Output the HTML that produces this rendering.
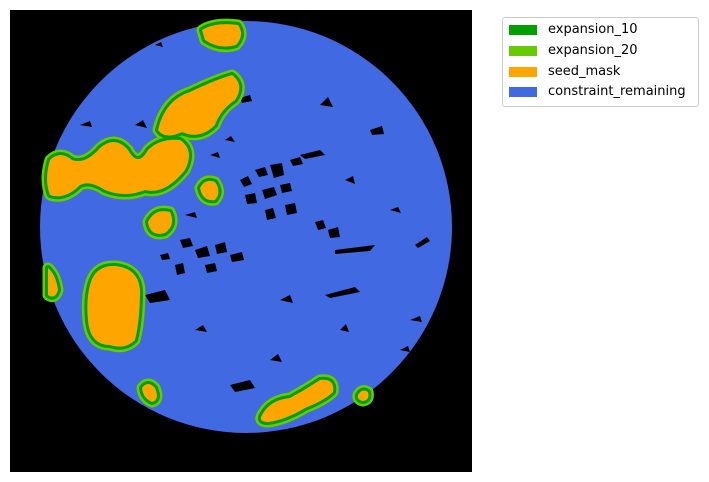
<!DOCTYPE html>
<html><head><meta charset="utf-8"><style>
body{margin:0;background:#fff;width:709px;height:482px;overflow:hidden;font-family:"DejaVu Sans","Liberation Sans",sans-serif;}
#leg{position:absolute;left:502px;top:17px;width:195px;height:88px;border:1px solid #ccc;border-radius:3px;background:#fff;}
.row{position:absolute;left:6px;height:14px;font-size:13px;color:#000;line-height:14px;}
.sw{position:absolute;left:0;top:2px;width:28px;height:10px;}
.lb{position:absolute;left:39px;top:0;white-space:nowrap;}
</style></head><body>
<svg width="709" height="482" style="position:absolute;left:0;top:0">
<rect x="10" y="10" width="462" height="462" fill="#000"/>
<circle cx="246" cy="227" r="206" fill="#4169e1"/>
<g fill="#000">
<path d="M240 180 l8 -4 l4 8 l-8 3 z"/>
<path d="M255 170 l10 -3 l3 8 l-9 2 z"/>
<path d="M270 165 l12 -2 l2 12 l-10 3 z"/>
<path d="M290 160 l10 -3 l3 7 l-10 2 z"/>
<path d="M245 195 l10 -2 l2 10 l-10 1 z"/>
<path d="M262 190 l12 -3 l3 8 l-12 4 z"/>
<path d="M280 185 l10 -2 l2 8 l-10 2 z"/>
<path d="M265 210 l8 -2 l3 10 l-9 2 z"/>
<path d="M285 205 l10 -2 l2 10 l-10 2 z"/>
<path d="M180 240 l10 -2 l3 8 l-10 2 z"/>
<path d="M195 250 l12 -4 l3 10 l-12 2 z"/>
<path d="M215 245 l10 -3 l2 10 l-10 2 z"/>
<path d="M175 265 l8 -2 l2 10 l-8 2 z"/>
<path d="M205 265 l10 -2 l2 8 l-10 2 z"/>
<path d="M230 255 l12 -3 l2 8 l-12 2 z"/>
<path d="M160 255 l8 -2 l2 6 l-8 1 z"/>
<path d="M315 222 l8 -2 l3 8 l-8 2 z"/>
<path d="M328 230 l10 -3 l2 10 l-10 1 z"/>
<path d="M335 250 l40 -5 l-5 6 l-35 3 z"/>
<path d="M145 295 l20 -5 l5 10 l-20 3 z"/>
<path d="M230 385 l20 -5 l5 8 l-20 4 z"/>
<path d="M325 295 l30 -8 l5 5 l-30 6 z"/>
<path d="M415 245 l12 -8 l3 4 l-12 7 z"/>
<path d="M240 98 l10 -3 l2 6 l-10 2 z"/>
<path d="M320 105 l8 -8 l5 10 z"/>
<path d="M280 300 l10 -5 l3 8 z"/>
<path d="M270 360 l8 -6 l4 8 z"/>
<path d="M370 130 l12 -4 l2 8 l-12 1 z"/>
<path d="M300 155 l20 -5 l5 5 l-20 4 z"/>
<path d="M225 140 l6 -4 l4 6 z"/>
<path d="M210 155 l8 -3 l2 6 z"/>
<path d="M340 330 l6 -6 l3 8 z"/>
<path d="M400 350 l8 -4 l2 6 z"/>
<path d="M390 210 l8 -3 l3 6 z"/>
<path d="M410 320 l10 -4 l2 6 z"/>
<path d="M195 330 l8 -5 l4 7 z"/>
<path d="M80 125 l10 -4 l2 6 z"/>
<path d="M135 125 l8 -5 l4 8 z"/>
<path d="M155 45 l6 -3 l2 5 z"/>
<path d="M185 215 l10 -3 l2 6 z"/>
<path d="M345 180 l8 -4 l2 8 z"/>
</g>
<g>
<g id="blobs">
<path d="M202 30 Q215 22 238 25 Q245 35 236 45 Q220 50 205 40 Z"/>
<path d="M158 130 Q165 100 190 92 Q215 80 232 75 Q245 85 235 100 Q220 110 215 125 Q200 140 182 132 Q165 140 158 130 Z"/>
<path d="M50 160 Q60 150 72 160 Q85 165 100 148 Q115 135 128 150 Q138 168 148 150 Q160 138 180 140 Q195 150 185 170 Q165 195 145 190 Q125 198 105 190 Q90 180 80 185 Q65 200 50 195 Q44 180 50 160 Z"/>
<path d="M200 188 Q205 178 215 182 Q222 192 215 200 Q203 202 200 188 Z"/>
<path d="M148 222 Q155 208 170 212 Q176 225 165 233 Q150 237 148 222 Z"/>
<path d="M48 268 Q56 275 58 290 Q55 300 48 295 Z"/>
<path d="M90 285 Q95 265 115 266 Q138 268 140 290 Q140 320 135 340 Q125 350 110 345 Q90 345 88 320 Q86 300 90 285 Z"/>
<path d="M142 388 Q148 380 155 388 Q160 400 152 402 Q143 398 142 388 Z"/>
<path d="M262 415 Q270 400 290 398 Q305 390 320 380 Q335 378 333 392 Q325 400 305 408 Q285 420 268 422 Q258 422 262 415 Z"/>
<path d="M358 395 Q362 388 368 392 Q370 400 363 401 Q357 400 358 395 Z"/>
</g>
</g>
<use href="#blobs" fill="none" stroke="#66cc00" stroke-width="11" stroke-linejoin="round"/>
<use href="#blobs" fill="none" stroke="#00a000" stroke-width="6" stroke-linejoin="round"/>
<use href="#blobs" fill="#ffa500" stroke="none"/>
</svg>
<div id="leg">
<div class="row" style="top:5px"><div class="sw" style="background:#00a000"></div><span class="lb">expansion_10</span></div>
<div class="row" style="top:26px"><div class="sw" style="background:#66cc00"></div><span class="lb">expansion_20</span></div>
<div class="row" style="top:47px"><div class="sw" style="background:#ffa500"></div><span class="lb">seed_mask</span></div>
<div class="row" style="top:67px"><div class="sw" style="background:#4169e1"></div><span class="lb">constraint_remaining</span></div>
</div>
</body></html>
